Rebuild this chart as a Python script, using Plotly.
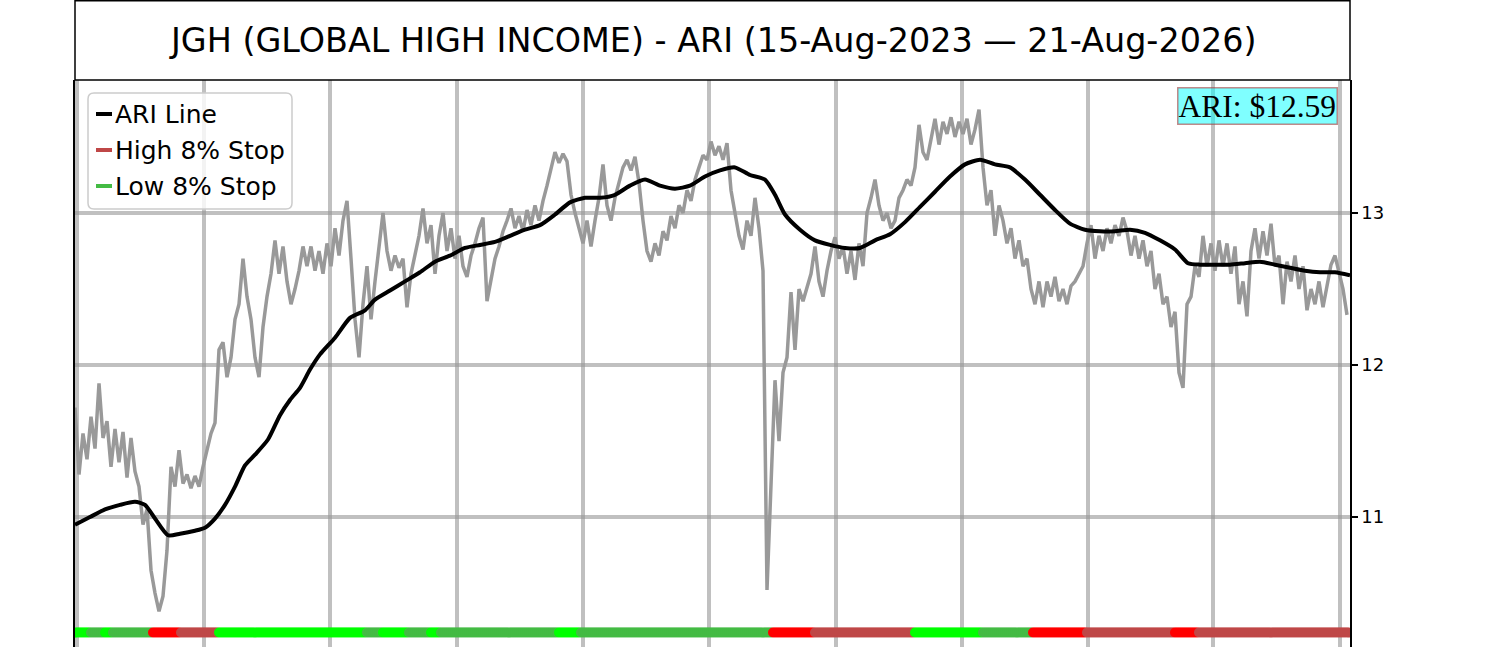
import plotly.graph_objects as go

# ---------------- data ----------------
# closing price samples (every 2 trading days)
price = [
    11.72, 11.28, 11.55, 11.38, 11.66, 11.45, 11.88, 11.52, 11.63, 11.33,
    11.58, 11.36, 11.56, 11.26, 11.52, 11.30, 11.20, 10.95, 11.05, 10.65,
    10.50, 10.38, 10.48, 10.78, 11.33, 11.20, 11.44, 11.22, 11.28, 11.19,
    11.27, 11.20, 11.33, 11.45, 11.55, 11.62, 12.10, 12.15, 11.92, 12.05,
    12.30, 12.40, 12.70, 12.45, 12.30, 12.05, 11.92, 12.25, 12.45, 12.60,
    12.82, 12.60, 12.78, 12.55, 12.40, 12.50, 12.62, 12.78, 12.65, 12.78,
    12.62, 12.75, 12.60, 12.80, 12.65, 12.90, 12.72, 12.95, 13.08, 12.70,
    12.30, 12.05, 12.40, 12.65, 12.30, 12.55, 12.80, 13.00, 12.75, 12.62,
    12.72, 12.64, 12.70, 12.38, 12.60, 12.74, 12.85, 13.03, 12.80, 12.92,
    12.60, 12.85, 13.00, 12.75, 12.90, 12.70, 12.85, 12.65, 12.58, 12.72,
    12.80, 12.90, 12.97, 12.42, 12.55, 12.70, 12.78, 12.88, 12.95, 13.03,
    12.90, 12.98, 12.88, 13.02, 12.92, 13.05, 12.95, 13.08, 13.18, 13.30,
    13.40, 13.33, 13.39, 13.34, 13.12, 13.00, 12.90, 12.80, 12.95, 12.78,
    12.95, 13.10, 13.32, 13.05, 12.95, 13.10, 13.20, 13.30, 13.35, 13.28,
    13.37, 13.20, 12.95, 12.75, 12.68, 12.80, 12.72, 12.88, 12.82, 12.98,
    12.90, 13.05, 13.00, 13.15, 13.08, 13.22, 13.30, 13.38, 13.35, 13.47,
    13.38, 13.44, 13.35, 13.46, 13.15, 13.00, 12.85, 12.76, 12.95, 12.85,
    13.10, 12.90, 12.62, 10.52, 11.20, 11.90, 11.50, 11.95, 12.05, 12.48,
    12.10, 12.50, 12.42, 12.52, 12.60, 12.78, 12.55, 12.45, 12.62, 12.75,
    12.84, 12.70, 12.78, 12.60, 12.75, 12.56, 12.80, 12.65, 13.00, 13.10,
    13.22, 13.05, 12.95, 13.00, 12.90, 12.95, 13.10, 13.15, 13.22, 13.18,
    13.30, 13.58, 13.40, 13.35, 13.50, 13.62, 13.45, 13.60, 13.52, 13.63,
    13.50, 13.60, 13.52, 13.62, 13.45, 13.55, 13.68, 13.30, 13.05, 13.15,
    12.85, 13.05, 12.95, 12.80, 12.90, 12.70, 12.82, 12.65, 12.70, 12.50,
    12.40, 12.55, 12.38, 12.55, 12.45, 12.58, 12.42, 12.50, 12.40, 12.52,
    12.55, 12.60, 12.65, 12.80, 12.92, 12.70, 12.85, 12.75, 12.90, 12.80,
    12.92, 12.85, 12.97, 12.88, 12.72, 12.85, 12.70, 12.82, 12.65, 12.75,
    12.50, 12.60, 12.40, 12.45, 12.25, 12.35, 11.95, 11.85, 12.40, 12.45,
    12.65, 12.58, 12.85, 12.65, 12.80, 12.62, 12.82, 12.65, 12.80, 12.60,
    12.78, 12.40, 12.55, 12.32, 12.75, 12.90, 12.70, 12.88, 12.72, 12.93,
    12.65, 12.72, 12.40, 12.68, 12.55, 12.72, 12.50, 12.65, 12.36, 12.50,
    12.40, 12.55, 12.38, 12.52, 12.66, 12.72, 12.60, 12.50, 12.33,
]
price_step = 2  # trading days between samples

ari_days = [
    0, 7.5, 15, 22.5, 30, 35, 40, 46.5, 52.5, 60,
    65, 70, 75, 80, 85, 90, 96.5, 102.5, 107.5, 112.5,
    117.5, 122.5, 130, 137.5, 145, 150, 157.5, 165, 172.5, 180,
    187.5, 195, 202.5, 210, 217.5, 225, 232.5, 240, 247.5, 255,
    262.5, 270, 277.5, 285, 292.5, 300, 307.5, 315, 322.5, 330,
    337.5, 345, 350, 355, 362.5, 370, 377.5, 385, 392.5, 400,
    407.5, 415, 422.5, 430, 437.5, 445, 452.5, 460, 467.5, 475,
    482.5, 490, 497.5, 505, 512.5, 520, 527.5, 535, 542.5, 550,
    556.5, 562.5, 570, 577.5, 585, 592.5, 600, 607.5, 615, 622.5,
    630, 637.5,
]
ari_vals = [
    10.95, 11.00, 11.05, 11.08, 11.10, 11.08, 10.99, 10.88, 10.89, 10.91,
    10.93, 10.99, 11.08, 11.20, 11.34, 11.41, 11.51, 11.67, 11.77, 11.85,
    11.97, 12.07, 12.18, 12.31, 12.36, 12.43, 12.49, 12.55, 12.61, 12.68,
    12.72, 12.77, 12.79, 12.81, 12.85, 12.89, 12.92, 12.99, 13.07, 13.10,
    13.10, 13.12, 13.18, 13.22, 13.18, 13.16, 13.18, 13.24, 13.28, 13.30,
    13.25, 13.22, 13.12, 12.99, 12.89, 12.82, 12.79, 12.77, 12.77, 12.82,
    12.86, 12.94, 13.04, 13.14, 13.24, 13.32, 13.35, 13.32, 13.30, 13.22,
    13.12, 13.02, 12.93, 12.89, 12.88, 12.88, 12.89, 12.87, 12.82, 12.76,
    12.67, 12.66, 12.66, 12.66, 12.67, 12.68, 12.66, 12.64, 12.62, 12.61,
    12.61, 12.59,
]

# stop-state band: (state, number of days)
band_runs = [
    ("low_hit", 8), ("low", 7), ("low_hit", 4), ("low", 20), ("high_hit", 14),
    ("high", 19), ("low_hit", 74), ("low", 8), ("low_hit", 13), ("low", 11),
    ("low_hit", 5), ("low", 59), ("low_hit", 11), ("low", 96), ("high_hit", 21),
    ("high", 50), ("low_hit", 34), ("low", 25), ("high_hit", 27), ("high", 44),
    ("high_hit", 12), ("high", 76),
]
band_level = 10.24

grid_days = [1, 64.5, 127.5, 191, 254, 317, 380.5, 443.5, 506.5, 569, 632.5]
y_ticks = [11, 12, 13]
y_range = [10.145, 13.875]
x_range = [0, 637.5]

title_text = "JGH (GLOBAL HIGH INCOME) - ARI (15-Aug-2023 \u2014 21-Aug-2026)"
ari_label = "ARI: $%.2f" % ari_vals[-1]
legend_items = [("ARI Line", "#000000"), ("High 8% Stop", "#bf4747"), ("Low 8% Stop", "#44bb44")]

state_colors = {"low_hit": "#00ff00", "low": "#44bb44", "high_hit": "#ff0000", "high": "#bf4747"}

# ---------------- build ----------------
W, H = 1500, 647
L, R, T, B = 75, 150, 80, 0
PW, PH = W - L - R, H - T - B


def px2x(px):
    return (px - L) / PW


def py2y(py):
    return (H - B - py) / PH


fig = go.Figure()

price_days = [i * price_step for i in range(len(price))]
fig.add_trace(go.Scatter(x=price_days, y=price, mode="lines",
                         line=dict(color="#999999", width=3.5), showlegend=False,
                         hoverinfo="skip"))
fig.add_trace(go.Scatter(x=ari_days, y=ari_vals, mode="lines",
                         line=dict(color="#000000", width=4, shape="spline", smoothing=0.6),
                         showlegend=False, name="ARI Line"))

band_x, band_c = [], []
d = 0
for state, n in band_runs:
    for _ in range(n):
        band_x.append(d)
        band_c.append(state_colors[state])
        d += 1
fig.add_trace(go.Scatter(x=band_x, y=[band_level] * len(band_x), mode="markers",
                         marker=dict(color=band_c, size=10, line=dict(width=0)),
                         showlegend=False, hoverinfo="skip"))

shapes = []
annotations = []

# title box
shapes.append(dict(type="rect", xref="paper", yref="paper",
                   x0=0, x1=1, y0=py2y(80), y1=py2y(0.75),
                   line=dict(color="black", width=1.5), fillcolor="rgba(0,0,0,0)"))
annotations.append(dict(text=title_text, xref="paper", yref="paper",
                        x=0.5, y=py2y(40), xanchor="center", yanchor="middle",
                        showarrow=False, font=dict(family="DejaVu Sans", size=33.4, color="black")))

# legend box (rounded)
lx0, lx1, ly0, ly1, r = 88, 292, 93, 209, 6
path = (f"M {px2x(lx0 + r)},{py2y(ly0)} L {px2x(lx1 - r)},{py2y(ly0)} "
        f"Q {px2x(lx1)},{py2y(ly0)} {px2x(lx1)},{py2y(ly0 + r)} "
        f"L {px2x(lx1)},{py2y(ly1 - r)} Q {px2x(lx1)},{py2y(ly1)} {px2x(lx1 - r)},{py2y(ly1)} "
        f"L {px2x(lx0 + r)},{py2y(ly1)} Q {px2x(lx0)},{py2y(ly1)} {px2x(lx0)},{py2y(ly1 - r)} "
        f"L {px2x(lx0)},{py2y(ly0 + r)} Q {px2x(lx0)},{py2y(ly0)} {px2x(lx0 + r)},{py2y(ly0)} Z")
shapes.append(dict(type="path", xref="paper", yref="paper", path=path,
                   line=dict(color="#cccccc", width=1.5), fillcolor="rgba(255,255,255,0.8)"))
for k, (lab, col) in enumerate(legend_items):
    yy = 114 + 36 * k
    shapes.append(dict(type="line", xref="paper", yref="paper",
                       x0=px2x(96), x1=px2x(112), y0=py2y(yy), y1=py2y(yy),
                       line=dict(color=col, width=4)))
    annotations.append(dict(text=lab, xref="paper", yref="paper", x=px2x(113), y=py2y(yy),
                            xanchor="left", yanchor="middle", showarrow=False,
                            font=dict(family="DejaVu Sans", size=25, color="black")))

# ARI value label
annotations.append(dict(text=ari_label, xref="paper", yref="paper",
                        x=px2x(1338), y=py2y(87), xanchor="right", yanchor="top",
                        showarrow=False, bgcolor="rgba(0,255,255,0.5)",
                        bordercolor="rgba(170,60,60,0.6)", borderwidth=1.5, borderpad=0,
                        font=dict(family="Liberation Serif", size=31.5, color="black")))

fig.update_layout(
    width=W, height=H, margin=dict(l=L, r=R, t=T, b=B, pad=0),
    paper_bgcolor="white", plot_bgcolor="white",
    shapes=shapes, annotations=annotations, showlegend=False,
    xaxis=dict(range=x_range, tickvals=grid_days, showticklabels=False, ticks="",
               showgrid=True, gridcolor="rgba(150,150,150,0.6)", gridwidth=4,
               zeroline=False, showline=False),
    yaxis=dict(range=y_range, side="right", tickvals=y_ticks, ticks="outside",
               ticklen=6, tickwidth=1.5, tickcolor="black",
               showgrid=True, gridcolor="rgba(150,150,150,0.6)", gridwidth=4,
               zeroline=False, showline=True, linecolor="black", linewidth=1.5, mirror=True,
               tickfont=dict(family="DejaVu Sans", size=18, color="black")),
)

fig.write_html("out.html", config={"displayModeBar": False},
               post_script="document.body.style.margin='0px';document.body.style.overflow='hidden';")
